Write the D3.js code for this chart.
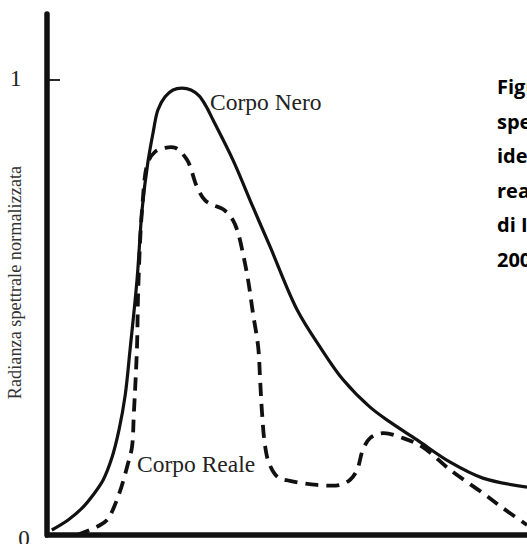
<!DOCTYPE html>
<html>
<head>
<meta charset="utf-8">
<script src="https://cdn.jsdelivr.net/npm/d3@7"></script>
<style>
  html, body { margin: 0; padding: 0; background: #fff; }
  svg { display: block; }
</style>
</head>
<body>
<svg id="chart" width="527" height="544"></svg>
<script>
// Normalised wavelength (0..1 across the plot) and normalised spectral radiance.
const blackBodyX = [0.010, 0.044, 0.073, 0.096, 0.117, 0.135, 0.150, 0.163, 0.173, 0.1875, 0.198, 0.210, 0.221, 0.231, 0.246, 0.2625, 0.281, 0.300, 0.317, 0.331, 0.346, 0.3875, 0.429, 0.465, 0.521, 0.569, 0.617, 0.673, 0.715, 0.771, 0.840, 0.908, 1.0];
const blackBodyY = [0.011, 0.033, 0.059, 0.088, 0.121, 0.169, 0.231, 0.308, 0.407, 0.560, 0.714, 0.818, 0.884, 0.934, 0.963, 0.978, 0.982, 0.978, 0.965, 0.943, 0.912, 0.824, 0.721, 0.633, 0.495, 0.413, 0.341, 0.281, 0.248, 0.209, 0.160, 0.125, 0.105];

const realBodyX = [0.0625, 0.104, 0.125, 0.148, 0.169, 0.177, 0.181, 0.1875, 0.190, 0.198, 0.210, 0.225, 0.246, 0.267, 0.292, 0.3125, 0.329, 0.346, 0.367, 0.3875, 0.398, 0.408, 0.419, 0.429, 0.440, 0.444, 0.448, 0.454, 0.4625, 0.481, 0.506, 0.5625, 0.610, 0.631, 0.646, 0.658, 0.673, 0.700, 0.742, 0.783, 0.840, 0.908, 0.950, 1.0];
const realBodyY = [0.000, 0.018, 0.033, 0.084, 0.158, 0.193, 0.268, 0.413, 0.538, 0.714, 0.818, 0.842, 0.851, 0.851, 0.824, 0.765, 0.736, 0.725, 0.716, 0.692, 0.664, 0.620, 0.560, 0.488, 0.413, 0.341, 0.268, 0.198, 0.158, 0.127, 0.119, 0.110, 0.110, 0.121, 0.143, 0.187, 0.213, 0.224, 0.213, 0.193, 0.143, 0.092, 0.059, 0.022];

const yTicks = [0, 1];
const yTickLabels = ["0", "1"];
const yAxisTitle = "Radianza spettrale normalizzata";
const curveLabels = ["Corpo Nero", "Corpo Reale"];
const captionLines = [
  "Figura 2.3 – Radianza",
  "spettrale di un corpo nero",
  "ideale e di un corpo",
  "reale (da Manuale",
  "di Ispezione termografica,",
  "2004)"
];

const W = 527, H = 544;
const svg = d3.select("#chart");

const x = d3.scaleLinear().domain([0, 1]).range([47, 527]);
const y = d3.scaleLinear().domain([0, 1]).range([535, 80]);

const serif = "'Liberation Serif', 'Times New Roman', serif";

// Axes: heavy vertical and horizontal strokes
svg.append("line")
  .attr("x1", x(0)).attr("x2", x(0))
  .attr("y1", 14).attr("y2", y(0))
  .attr("stroke", "#111").attr("stroke-width", 5.5)
  .attr("stroke-linecap", "round");
svg.append("line")
  .attr("x1", x(0) - 2).attr("x2", W + 10)
  .attr("y1", y(0)).attr("y2", y(0))
  .attr("stroke", "#111").attr("stroke-width", 5.5);

// Tick mark for the value 1 (drawn inside the plot)
svg.append("line")
  .attr("x1", x(0)).attr("x2", x(0) + 13)
  .attr("y1", y(1)).attr("y2", y(1))
  .attr("stroke", "#111").attr("stroke-width", 1.8);

// Tick labels
svg.append("text")
  .attr("x", 15.7).attr("y", y(yTicks[1]) + 6)
  .attr("text-anchor", "middle")
  .attr("font-family", serif).attr("font-size", 23)
  .attr("fill", "#222")
  .text(yTickLabels[1]);
svg.append("text")
  .attr("x", 24).attr("y", y(yTicks[0]) + 11)
  .attr("text-anchor", "middle")
  .attr("font-family", serif).attr("font-size", 23)
  .attr("fill", "#222")
  .text(yTickLabels[0]);

// Axis title
svg.append("text")
  .attr("transform", "translate(21,282.5) rotate(-90)")
  .attr("text-anchor", "middle")
  .attr("font-family", serif).attr("font-size", 18.3)
  .attr("fill", "#333")
  .text(yAxisTitle);

const line = d3.line()
  .x(d => x(d[0]))
  .y(d => y(d[1]))
  .curve(d3.curveCatmullRom.alpha(0.5));

const blackBody = blackBodyX.map((v, i) => [v, blackBodyY[i]]);
const realBody = realBodyX.map((v, i) => [v, realBodyY[i]]);

// Ideal black body: solid line
svg.append("path")
  .datum(blackBody)
  .attr("d", line)
  .attr("fill", "none")
  .attr("stroke", "#111")
  .attr("stroke-width", 3.2)
  .attr("stroke-linejoin", "round");

// Real body: dashed line
svg.append("path")
  .datum(realBody)
  .attr("d", line)
  .attr("fill", "none")
  .attr("stroke", "#111")
  .attr("stroke-width", 3.8)
  .attr("stroke-dasharray", "13,8");

// Curve labels
svg.append("text")
  .attr("x", 210).attr("y", 110)
  .attr("font-family", serif).attr("font-size", 23.5)
  .attr("fill", "#222")
  .text(curveLabels[0]);
svg.append("text")
  .attr("x", 137).attr("y", 472)
  .attr("font-family", serif).attr("font-size", 23.5)
  .attr("fill", "#222")
  .text(curveLabels[1]);

// Caption block on the right, running past the page edge
svg.append("clipPath").attr("id", "page")
  .append("rect").attr("x", 0).attr("y", 0).attr("width", W).attr("height", H);
const caption = svg.append("g").attr("clip-path", "url(#page)");
caption.selectAll("text")
  .data(captionLines)
  .join("text")
  .attr("x", 497)
  .attr("y", (d, i) => 94 + i * 34.6)
  .attr("font-family", "'Open Sans', sans-serif")
  .attr("font-weight", 700)
  .attr("font-size", 20)
  .attr("fill", "#000")
  .text(d => d);
</script>
</body>
</html>
